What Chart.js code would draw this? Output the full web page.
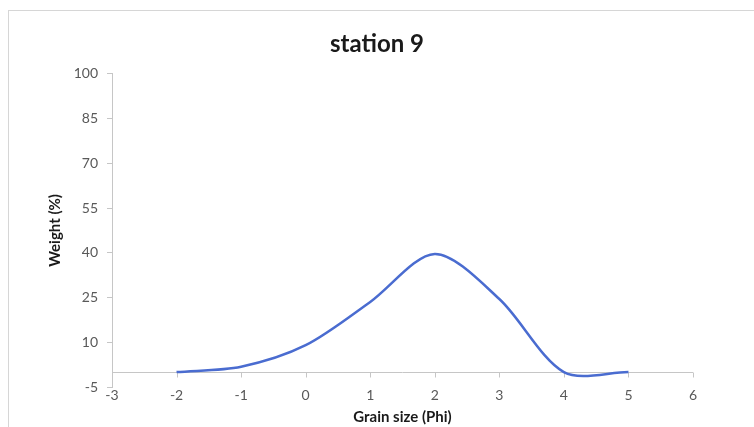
<!DOCTYPE html>
<html>
<head>
<meta charset="utf-8">
<script src="https://cdn.jsdelivr.net/npm/chart.js@4/dist/chart.umd.min.js"></script>
<style>
    body { margin: 0; background: #fff; overflow: hidden; }
    #wrap { position: relative; width: 754px; height: 427px; }
    #frame {
        position: absolute; left: 8px; top: 10px;
        width: 780px; height: 440px;
        border: 1px solid #d6d6d6;
    }
    #myChart { position: absolute; left: 0; top: 0; }
</style>
</head>
<body>
<div id="wrap">
    <div id="frame"></div>
    <canvas id="myChart" width="754" height="427"></canvas>
</div>
<script>
// Grain size classes (phi) and weight percent per class
const grainSize = [-2, -1, 0, 1, 2, 3, 4, 5];
const weightPct = [0, 1.8, 9, 23.5, 39.6, 24.5, 0, 0];

const yTicks = [-5, 10, 25, 40, 55, 70, 85, 100];
const xTicks = [-3, -2, -1, 0, 1, 2, 3, 4, 5, 6];

const axisGray = '#c6c6c6';
const labelGray = '#595959';

// horizontal axis crosses at weight = 0, like the spreadsheet default
const zeroAxis = {
    id: 'zeroAxis',
    beforeDatasetsDraw(chart) {
        const ctx = chart.ctx;
        const x = chart.scales.x;
        const y = chart.scales.y;
        const y0 = Math.round(y.getPixelForValue(0)) + 0.5;
        ctx.save();
        ctx.strokeStyle = axisGray;
        ctx.lineWidth = 1;
        ctx.beginPath();
        ctx.moveTo(chart.chartArea.left, y0);
        ctx.lineTo(chart.chartArea.right, y0);
        xTicks.forEach(function(v) {
            const px = Math.round(x.getPixelForValue(v)) + 0.5;
            ctx.moveTo(px, y0);
            ctx.lineTo(px, y0 + 5);
        });
        ctx.stroke();
        ctx.restore();
    }
};

const data = grainSize.map(function(g, i) {
    return { x: g, y: weightPct[i] };
});

new Chart(document.getElementById('myChart'), {
    type: 'scatter',
    data: {
        datasets: [{
            label: 'station 9',
            data: data,
            showLine: true,
            borderColor: '#4a6cd0',
            borderWidth: 2.5,
            tension: 0.3,
            pointRadius: 0,
            fill: false
        }]
    },
    options: {
        responsive: false,
        animation: false,
        layout: { padding: 0 },
        plugins: {
            legend: { display: false },
            tooltip: { enabled: false },
            title: {
                display: true,
                text: 'station 9',
                color: '#1a1a1a',
                font: { family: 'Lato', size: 24, weight: 'bold' },
                padding: { top: 30, bottom: 15 }
            }
        },
        scales: {
            x: {
                type: 'linear',
                position: 'bottom',
                min: -3,
                max: 6,
                afterFit: function(scale) { scale.height = 40; },
                afterBuildTicks: function(scale) {
                    scale.ticks = xTicks.map(function(v) { return { value: v }; });
                },
                grid: { display: false, drawTicks: false },
                border: { display: false },
                ticks: {
                    padding: 0,
                    color: labelGray,
                    font: { family: 'Lato', size: 14 }
                },
                title: {
                    display: true,
                    text: 'Grain size (Phi)',
                    color: '#1a1a1a',
                    font: { family: 'Lato', size: 15, weight: 'bold' },
                    padding: { top: 0, bottom: 1 }
                }
            },
            y: {
                min: -5,
                max: 100,
                afterFit: function(scale) { scale.width = 112; },
                afterBuildTicks: function(scale) {
                    scale.ticks = yTicks.map(function(v) { return { value: v }; });
                },
                grid: {
                    drawOnChartArea: false,
                    drawTicks: true,
                    tickLength: 5,
                    color: axisGray
                },
                border: { display: true, color: axisGray },
                ticks: {
                    padding: 9,
                    color: labelGray,
                    font: { family: 'Lato', size: 14 }
                },
                title: {
                    display: true,
                    text: 'Weight (%)',
                    color: '#1a1a1a',
                    font: { family: 'Lato', size: 15, weight: 'bold' },
                    padding: { top: 46, bottom: 0 }
                }
            },
            // empty right-hand strip so the plot ends before the frame edge
            yRight: {
                position: 'right',
                min: -5,
                max: 100,
                afterFit: function(scale) { scale.width = 61; },
                grid: { display: false, drawTicks: false },
                border: { display: false },
                ticks: { display: false }
            }
        }
    },
    plugins: [zeroAxis]
});
</script>
</body>
</html>
